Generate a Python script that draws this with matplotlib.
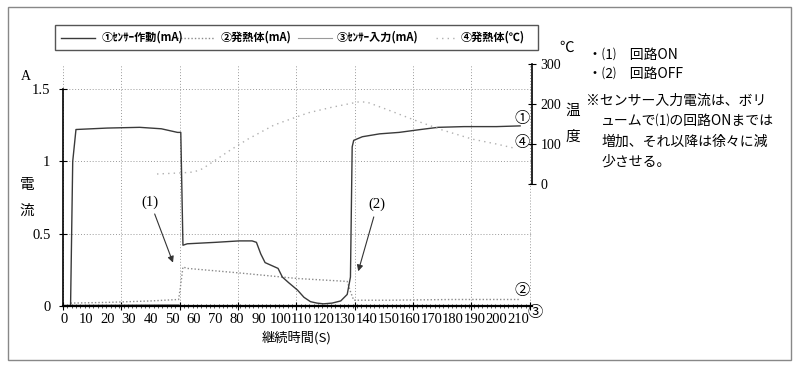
import matplotlib
matplotlib.use('Agg')
import matplotlib.pyplot as plt
from matplotlib.lines import Line2D
from matplotlib.patches import Rectangle

plt.rcParams['font.family'] = ['Noto Sans CJK JP', 'DejaVu Sans']

# ① センサー作動 (mA)
sensor_t = [0, 3, 4, 5.5, 20, 35, 45, 52.5, 54, 55, 57, 70, 81, 87, 89, 91, 93, 96,
            99, 101, 104, 108, 111, 114, 117, 120, 124, 128, 131, 132.5, 133.3, 134,
            138, 146, 155, 165, 173, 185, 200, 211]
sensor_ma = [0, 0, 1.0, 1.22, 1.23, 1.235, 1.225, 1.20, 1.20, 0.42, 0.43, 0.44, 0.45,
             0.45, 0.44, 0.36, 0.30, 0.28, 0.26, 0.20, 0.16, 0.11, 0.06, 0.03, 0.02,
             0.015, 0.02, 0.035, 0.08, 0.2, 1.10, 1.145, 1.17, 1.19, 1.20, 1.22,
             1.235, 1.24, 1.24, 1.245]

# ② 発熱体 (mA)
heater_t = [3, 20, 40, 53, 54, 55, 57, 80, 108, 131, 132.5, 134, 150, 180, 206, 211]
heater_ma = [0.02, 0.025, 0.035, 0.045, 0.15, 0.27, 0.26, 0.23, 0.19, 0.17, 0.10,
             0.04, 0.04, 0.045, 0.045, 0.045]

# ③ センサー入力 (mA)
input_t = [0, 53, 54, 211]
input_ma = [0.005, 0.01, 0.0, 0.0]

# ④ 発熱体 (℃)
temp_t = [43, 55, 60, 64, 77, 85, 97, 101, 113, 124, 136, 140, 150, 162, 175,
          189, 200, 208]
temp_c = [25, 28, 30, 38, 85, 112, 147, 155, 178, 192, 205, 205, 185, 160, 135,
          112, 100, 90]

x_labels = list(range(0, 211, 10))
grid_x = [-0.5 + 27 * k for k in range(9)]
y_ticks = [0, 0.5, 1, 1.5]
y_ticklabels = ['0', '0.5', '1', '1.5']
t_ticks = [0, 100, 200, 300]

legend_names = ['①ｾﾝｻｰ作動(mA)', '②発熱体(mA)', '③ｾﾝｻｰ入力(mA)', '④発熱体(℃)']
notes = ['・⑴　回路ON', '・⑵　回路OFF']
remark = ['※センサー入力電流は、ボリ', 'ュームで⑴の回路ONまでは',
          '増加、それ以降は徐々に減', '少させる。']

W, H = 800, 366


def fx(px):
    return px / W


def fy(py):
    return 1 - py / H


SERIF = 'Liberation Serif'
styles = [
    dict(color='#3a3a3a', lw=1.0, ls='-'),
    dict(color='#8a8a8a', lw=1.0, ls=(0, (1, 1.5))),
    dict(color='#9a9a9a', lw=0.8, ls='-'),
    dict(color='#b0b0b0', lw=1.0, ls=(0, (1, 3))),
]

fig = plt.figure(figsize=(8, 3.66), dpi=100)
ax = fig.add_axes([fx(63), fy(306), fx(532) - fx(63), fy(64) - fy(306)])
ax.set_xlim(-0.5, 216.5)
ax.set_ylim(0, 1.5 + 25 / 144.67)

ax.plot(input_t, input_ma, **styles[2])
ax.plot(heater_t, heater_ma, **styles[1])
ax.plot(sensor_t, sensor_ma, **styles[0])

# 軸と目盛
for s in ['top', 'right']:
    ax.spines[s].set_visible(False)
ax.spines['left'].set_bounds(0, 1.5)
ax.spines['left'].set_linewidth(1.2)
ax.spines['bottom'].set_linewidth(1.6)
ax.set_xticks(grid_x)
ax.set_xticklabels([])
ax.set_xticks(x_labels, minor=True)
ax.set_xticklabels([str(v) for v in x_labels], minor=True, family=SERIF, fontsize=10.5)
ax.tick_params(axis='x', which='major', direction='inout', length=6, width=0.8)
ax.tick_params(axis='x', which='minor', length=0, pad=5)
ax.set_yticks(y_ticks)
ax.set_yticklabels(y_ticklabels, family=SERIF, fontsize=10.5)
ax.tick_params(axis='y', direction='inout', length=6, width=0.8, pad=6)
ax.grid(True, axis='both', which='major', color='#9a9a9a', lw=0.7, ls=(0, (1, 2)))

# 細かい目盛
sec = ax.secondary_xaxis('bottom')
sec.set_xticks([v - 0.5 for v in range(0, 218, 2)])
sec.set_xticklabels([])
sec.tick_params(direction='inout', length=3, width=0.6, color='#333333')
sec.spines['bottom'].set_visible(False)

# 温度軸
ax2 = ax.twinx()
ax2.set_ylim(-305, 300)
ax2.plot(temp_t, temp_c, **styles[3])
for s in ['top', 'left', 'bottom']:
    ax2.spines[s].set_visible(False)
ax2.spines['right'].set_bounds(0, 300)
ax2.spines['right'].set_linewidth(1.2)
ax2.set_yticks(t_ticks)
ax2.set_yticklabels([str(v) for v in t_ticks], family=SERIF, fontsize=10)
ax2.tick_params(axis='y', direction='inout', length=6, width=0.8, pad=3)

# 注記
arrow = dict(arrowstyle='-|>', color='#333333', lw=0.8, mutation_scale=9,
             shrinkA=2, shrinkB=0)
ax.annotate('(1)', xy=(50.4, 0.30), xytext=(39.8, 0.72), ha='center', va='center',
            family=SERIF, fontsize=10.5, arrowprops=arrow)
ax.annotate('(2)', xy=(136.1, 0.24), xytext=(144.9, 0.70), ha='center', va='center',
            family=SERIF, fontsize=10.5, arrowprops=arrow)

for txt, px, py in [('①', 522, 118), ('④', 522, 143), ('②', 522, 290), ('③', 535, 312)]:
    fig.text(fx(px), fy(py), txt, ha='center', va='center', fontsize=11)

# 軸ラベル
fig.text(fx(297), fy(338), '継続時間(S)', ha='center', va='center', fontsize=9.5)
fig.text(fx(26), fy(76), 'A', ha='center', va='center', family=SERIF, fontsize=10)
fig.text(fx(27), fy(185), '電', ha='center', va='center', fontsize=10.5)
fig.text(fx(27), fy(211), '流', ha='center', va='center', fontsize=10.5)
fig.text(fx(567), fy(48), '℃', ha='center', va='center', fontsize=10.5)
fig.text(fx(573), fy(111), '温', ha='center', va='center', fontsize=10.5)
fig.text(fx(573), fy(137), '度', ha='center', va='center', fontsize=10.5)

# 凡例
fig.add_artist(Rectangle((fx(55), fy(50)), fx(538) - fx(55), fy(25) - fy(50),
                         fill=False, ec='#555555', lw=1.0, transform=fig.transFigure))
leg_line_x = [(61, 95), (177, 214), (298, 332), (436, 456)]
leg_text_x = [102, 221, 337, 461]
for (x0, x1), tx, name, st in zip(leg_line_x, leg_text_x, legend_names, styles):
    fig.add_artist(Line2D([fx(x0), fx(x1)], [fy(37.5), fy(37.5)], **st))
    fig.text(fx(tx), fy(37.5), name, ha='left', va='center', fontsize=8,
             fontweight='bold')

# 右側の説明
fig.text(fx(588), fy(55), notes[0], ha='left', va='center', fontsize=10)
fig.text(fx(588), fy(74), notes[1], ha='left', va='center', fontsize=10)
fig.text(fx(586), fy(101), remark[0], ha='left', va='center', fontsize=10)
for i, line in enumerate(remark[1:]):
    fig.text(fx(601), fy(121 + 20.5 * i), line, ha='left', va='center', fontsize=10)

# 外枠
fig.add_artist(Rectangle((fx(8), fy(360)), fx(791) - fx(8), fy(7) - fy(360),
                         fill=False, ec='#888888', lw=1.0, transform=fig.transFigure))

fig.savefig('out.png', dpi=100)
